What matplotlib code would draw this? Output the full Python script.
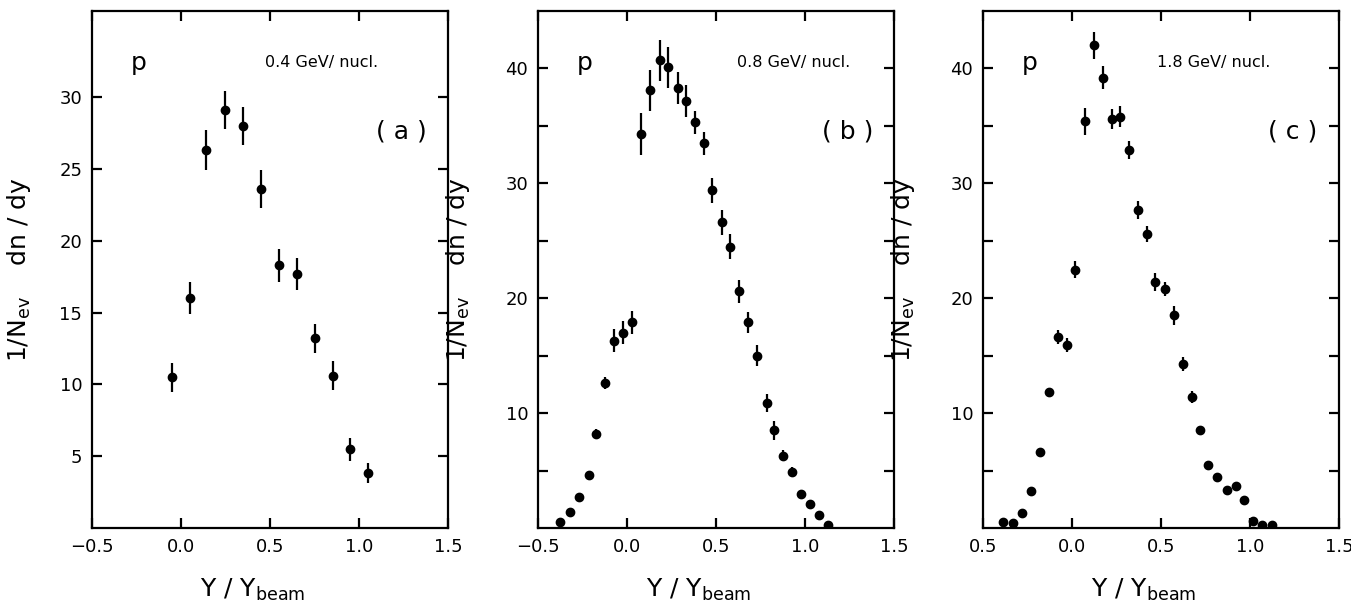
import matplotlib
matplotlib.use("Agg")
import matplotlib.pyplot as plt

# ---------------- data ----------------
xa = [-0.05, 0.05, 0.14, 0.245, 0.35, 0.45, 0.55, 0.65, 0.75, 0.855, 0.95, 1.05]
ya = [10.5, 16.0, 26.3, 29.1, 28.0, 23.6, 18.3, 17.7, 13.2, 10.6, 5.5, 3.8]
ea = [1.0, 1.1, 1.4, 1.3, 1.3, 1.3, 1.15, 1.1, 1.0, 1.0, 0.8, 0.7]

xb = [-0.376, -0.323, -0.269, -0.216, -0.175, -0.124, -0.073, -0.024, 0.03,
      0.081, 0.128, 0.184, 0.233, 0.284, 0.331, 0.383, 0.434, 0.477, 0.532,
      0.579, 0.632, 0.680, 0.731, 0.784, 0.825, 0.876, 0.927, 0.977, 1.028,
      1.077, 1.128]
yb = [0.5, 1.4, 2.7, 4.6, 8.2, 12.6, 16.3, 17.0, 17.9,
      34.3, 38.1, 40.7, 40.1, 38.3, 37.2, 35.3, 33.5, 29.4, 26.6,
      24.5, 20.6, 17.9, 15.0, 10.9, 8.5, 6.3, 4.9, 3.0, 2.1,
      1.1, 0.25]
eb = [0.0, 0.0, 0.2, 0.4, 0.4, 0.5, 1.0, 1.0, 1.0,
      1.8, 1.8, 1.8, 1.8, 1.4, 1.4, 1.0, 1.0, 1.1, 1.1,
      1.1, 1.0, 0.9, 0.9, 0.8, 0.8, 0.5, 0.4, 0.2, 0.2,
      0.1, 0.0]

xc = [-0.387, -0.332, -0.282, -0.229, -0.18, -0.13, -0.079, -0.028, 0.019,
      0.073, 0.126, 0.175, 0.223, 0.27, 0.319, 0.37, 0.419, 0.464, 0.52,
      0.571, 0.622, 0.674, 0.719, 0.764, 0.815, 0.868, 0.924, 0.965, 1.017,
      1.065, 1.123]
yc = [0.5, 0.4, 1.3, 3.2, 6.6, 11.8, 16.6, 15.9, 22.5,
      35.4, 42.0, 39.2, 35.6, 35.8, 32.9, 27.7, 25.6, 21.4, 20.8,
      18.5, 14.3, 11.4, 8.5, 5.45, 4.4, 3.35, 3.65, 2.4, 0.6,
      0.3, 0.3]
ec = [0.0, 0.0, 0.0, 0.0, 0.3, 0.4, 0.6, 0.6, 0.7,
      1.2, 1.2, 1.0, 0.9, 0.9, 0.8, 0.8, 0.7, 0.8, 0.6,
      0.8, 0.6, 0.5, 0.4, 0.2, 0.2, 0.0, 0.0, 0.0, 0.0,
      0.0, 0.0]

energies = ["0.4 GeV/ nucl.", "0.8 GeV/ nucl.", "1.8 GeV/ nucl."]
panel_tags = ["( a )", "( b )", "( c )"]
xtick_vals = [-0.5, 0.0, 0.5, 1.0, 1.5]
xtick_labels_ab = ["\u22120.5", "0.0", "0.5", "1.0", "1.5"]
xtick_labels_c = ["0.5", "0.0", "0.5", "1.0", "1.5"]
ytick_a = [5, 10, 15, 20, 25, 30]
ytick_bc = [5, 10, 15, 20, 25, 30, 35, 40]
ytick_bc_labels = ["", "10", "", "20", "", "30", "", "40"]
ylims = [36, 45, 45]
energy_x = [0.486, 0.558, 0.49]

# ---------------- figure ----------------
plt.rcParams['font.family'] = ['DejaVu Sans']
fig = plt.figure(figsize=(13.51, 6.03), dpi=100)

W, H = 1351.0, 603.0
lefts = [92, 538, 983]
width = 356
bottom_px, top_px = 528, 11

datasets = [(xa, ya, ea), (xb, yb, eb), (xc, yc, ec)]
for i, (x, y, e) in enumerate(datasets):
    ax = fig.add_axes([lefts[i] / W, (H - bottom_px) / H, width / W,
                       (bottom_px - top_px) / H])
    ax.errorbar(x, y, yerr=e, fmt='o', color='black', ms=6,
                elinewidth=1.6, capsize=0, clip_on=True)
    ax.set_xlim(-0.5, 1.5)
    ax.set_ylim(0, ylims[i])
    ax.set_xticks(xtick_vals)
    ax.set_xticklabels(xtick_labels_c if i == 2 else xtick_labels_ab)
    if i == 0:
        ax.set_yticks(ytick_a)
    else:
        ax.set_yticks(ytick_bc)
        ax.set_yticklabels(ytick_bc_labels)
    ax.tick_params(direction='in', length=7, width=1.6, top=True, right=True,
                   labelsize=13, pad=7)
    for s in ax.spines.values():
        s.set_linewidth(1.6)
    ax.set_xlabel(r"Y / Y$_{\rm beam}$", fontsize=18)
    ax.xaxis.set_label_coords(0.45, -0.095)
    ax.set_ylabel(r"1/N$_{\rm ev}$    dn / dy", fontsize=18)
    ax.yaxis.set_label_coords(-0.165 if i == 0 else -0.185, 0.5)
    ax.text(0.132, 0.90, "p", transform=ax.transAxes, fontsize=18,
            ha='center', va='center')
    ax.text(energy_x[i], 0.90, energies[i], transform=ax.transAxes,
            fontsize=11.5, ha='left', va='center')
    ax.text(0.87, 0.767, panel_tags[i], transform=ax.transAxes,
            fontsize=18, ha='center', va='center')

fig.savefig("out.png", dpi=100)
